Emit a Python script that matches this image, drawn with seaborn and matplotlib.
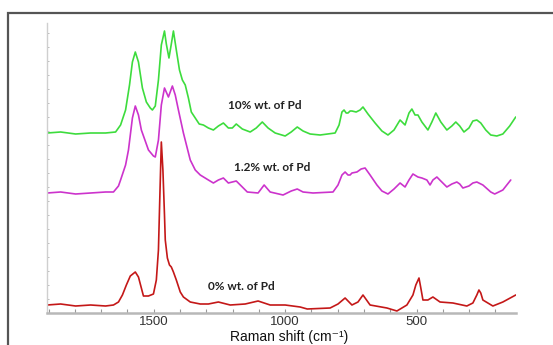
import numpy as np
import pandas as pd
import matplotlib
matplotlib.use("Agg")
import matplotlib.pyplot as plt
import matplotlib.patches as mpatches
from matplotlib.ticker import MultipleLocator, FixedLocator
import seaborn as sns

# ---------------- data (Raman shift in cm^-1, intensity in a.u.) ----------------
wn_10 = [1905, 1854, 1797, 1740, 1683, 1645, 1626, 1607, 1592, 1581, 1570, 1558, 1543, 1528,
         1513, 1505, 1494, 1482, 1471, 1459, 1452, 1442, 1433, 1425, 1414, 1402, 1391, 1380,
         1368, 1357, 1342, 1327, 1311, 1292, 1273, 1254, 1235, 1216, 1201, 1186, 1163, 1133,
         1110, 1087, 1065, 1038, 1000, 977, 954, 932, 905, 867, 810, 795, 784, 776, 768, 761,
         753, 746, 730, 715, 704, 685, 658, 632, 609, 586, 563, 544, 529, 518, 506, 495, 480,
         457, 442, 427, 408, 385, 366, 351, 336, 320, 301, 286, 271, 256, 237, 218, 195, 172,
         146, 123]
int_10 = [180, 181, 179, 180, 180, 181, 188, 203, 228, 251, 261, 251, 225, 211,
          205, 203, 207, 233, 268, 282, 269, 255, 269, 282, 263, 243, 233, 228,
          215, 201, 195, 189, 188, 185, 183, 187, 190, 185, 185, 189, 184, 181,
          185, 191, 185, 180, 177, 181, 186, 182, 179, 178, 180, 188, 201, 203, 200, 200,
          202, 202, 201, 203, 206, 199, 190, 182, 178, 183, 193, 188, 200, 204, 198, 198, 191,
          183, 191, 200, 191, 183, 187, 191, 187, 181, 185, 192, 193, 190, 183, 178, 177, 179,
          187, 196]

wn_12 = [1905, 1854, 1797, 1740, 1683, 1653, 1634, 1626, 1607, 1596, 1581, 1570, 1558, 1547,
         1520, 1501, 1494, 1482, 1471, 1459, 1444, 1429, 1418, 1406, 1387, 1361, 1342, 1323,
         1292, 1273, 1254, 1235, 1216, 1201, 1186, 1163, 1144, 1103, 1080, 1057, 1008, 977,
         954, 932, 894, 818, 799, 784, 772, 761, 753, 746, 727, 711, 696, 677, 651, 632, 609,
         586, 563, 544, 529, 514, 495, 480, 461, 449, 438, 423, 408, 385, 366, 347, 336, 324,
         301, 286, 271, 248, 218, 203, 172, 142]
int_12 = [120, 121, 119, 120, 121, 121, 127, 133, 148, 163, 195, 207, 198, 183,
          163, 157, 156, 173, 208, 225, 216, 227, 218, 203, 180, 153, 143, 138,
          133, 130, 133, 135, 130, 131, 132, 126, 121, 120, 128, 121, 118, 122,
          124, 121, 120, 121, 128, 138, 141, 138, 138, 140, 141, 144, 145, 138, 128, 122, 119,
          124, 130, 126, 133, 139, 136, 135, 133, 128, 133, 136, 132, 126, 129, 131, 129, 125,
          127, 130, 131, 128, 121, 119, 123, 133]

wn_0 = [1905, 1854, 1797, 1740, 1683, 1653, 1634, 1619, 1604, 1589, 1570, 1558, 1547, 1539,
        1520, 1501, 1490, 1482, 1477, 1471, 1465, 1459, 1456, 1448, 1440, 1433, 1425, 1414,
        1399, 1387, 1361, 1323, 1292, 1254, 1209, 1152, 1103, 1057, 1000, 943, 916, 829, 799,
        772, 746, 723, 704, 677, 613, 575, 537, 514, 503, 491, 484, 476, 457, 438, 411, 362,
        309, 286, 271, 263, 256, 248, 210, 172, 123]
int_0 = [8, 9, 7, 8, 7, 8, 11, 18, 28, 37, 41, 36, 25, 17,
         17, 19, 33, 63, 113, 171, 143, 98, 73, 55, 48, 46, 41, 33,
         21, 16, 11, 9, 9, 11, 8, 9, 12, 8, 8, 6, 4, 5, 9,
         15, 8, 11, 18, 8, 5, 2, 8, 18, 28, 35, 25, 13, 13, 16, 11, 10,
         7, 10, 18, 23, 20, 13, 7, 11, 18]

series_names = ["10% wt. of Pd", "1.2% wt. of Pd", "0% wt. of Pd"]
label_x = [1076, 1051, 1167]
label_y = [208, 146, 27]
major_ticks = [1500, 1000, 500]
tick_labels = ["1500", "1000", "500"]

# ---------------- build long table ----------------
frames = []
for name, w, v in zip(series_names, [wn_10, wn_12, wn_0], [int_10, int_12, int_0]):
    frames.append(pd.DataFrame({"wn": w, "intensity": v, "sample": name,
                                "order": np.arange(len(w))}))
df = pd.concat(frames, ignore_index=True)

sns.set_style("white")
plt.rcParams["font.family"] = ["Liberation Sans", "DejaVu Sans"]

fig = plt.figure(figsize=(5.53, 3.45), dpi=100)
ax = fig.add_axes([46.7 / 553, 1 - 313 / 345, (516 - 46.7) / 553, (313 - 23) / 345])

palette = {"10% wt. of Pd": "#3ddc3d", "1.2% wt. of Pd": "#cc33cc", "0% wt. of Pd": "#c41818"}
sns.lineplot(data=df, x="wn", y="intensity", hue="sample", units="sample", estimator=None,
             sort=False, palette=palette, linewidth=1.2, legend=False, ax=ax)

ax.set_xlim(1907, 122)
ax.set_ylim(0, 290)
ax.set_xlabel("")
ax.set_ylabel("")

ax.xaxis.set_major_locator(FixedLocator(major_ticks))
ax.set_xticklabels(tick_labels)
ax.xaxis.set_minor_locator(FixedLocator(list(range(1900, 150, -100))))
ax.tick_params(axis="x", which="both", direction="in", length=3, width=0.8, color="#999999",
               labelsize=9.5, labelcolor="#333333", pad=2, bottom=True)
ax.set_yticks([])
ax.yaxis.set_minor_locator(MultipleLocator(14))
ax.tick_params(axis="y", which="minor", direction="in", length=1.5, width=0.7, color="#bbbbbb", left=True)

for s in ["top", "right"]:
    ax.spines[s].set_visible(False)
ax.spines["bottom"].set_color("#b8b8b8")
ax.spines["bottom"].set_linewidth(1.8)
ax.spines["left"].set_color("#cfcfcf")
ax.spines["left"].set_linewidth(1.0)

for name, lx, ly in zip(series_names, label_x, label_y):
    ax.text(lx, ly, name, ha="center", va="center", fontsize=8.5, fontweight="bold",
            color="#222222", family=["Lato", "DejaVu Sans"])

fig.text(289 / 553, 1 - 341 / 345, "Raman shift (cm\u207b\u00b9)", ha="center", va="baseline",
         fontsize=10, color="#111111", family=["Liberation Sans", "DejaVu Sans"])

frame = mpatches.Rectangle((7.5 / 553, -0.1), 1.2, 1 - 12.5 / 345 + 0.1,
                           transform=fig.transFigure, fill=False, edgecolor="#555555",
                           linewidth=1.6, zorder=10)
fig.patches.append(frame)

fig.savefig("out.png", dpi=100)
